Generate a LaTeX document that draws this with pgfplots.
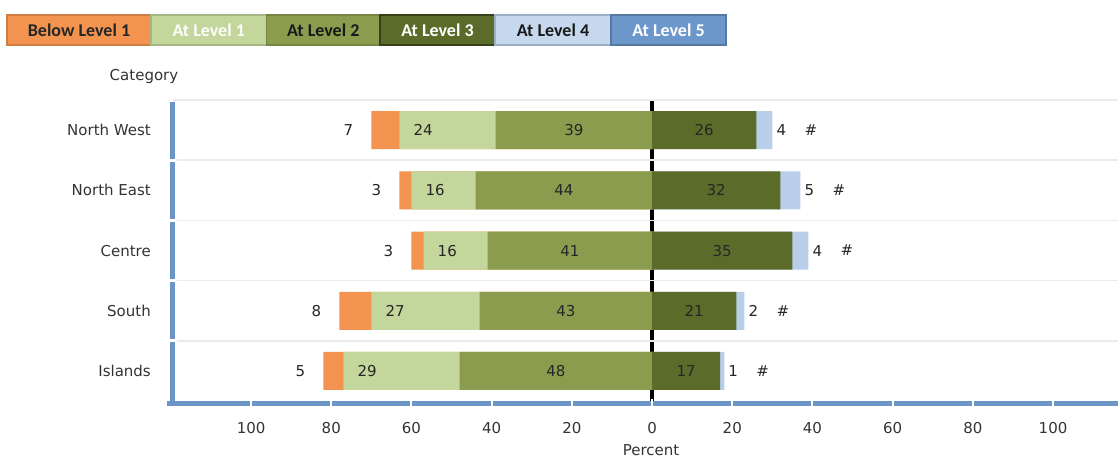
\documentclass[border=0pt]{standalone}
\usepackage{fontspec}
\setmainfont{DejaVu Sans}
\newfontfamily\legfont{Carlito}
\usepackage{pgfplots}
\usepackage{pgfplotstable}
\pgfplotsset{compat=1.18}

\definecolor{cB1}{HTML}{F2944F}
\definecolor{cL1}{HTML}{C3D69B}
\definecolor{cL2}{HTML}{8C9C4F}
\definecolor{cL3}{HTML}{5B6C2A}
\definecolor{cL4}{HTML}{B8CEE9}
\definecolor{cL5}{HTML}{6C97CB}
\definecolor{axblue}{HTML}{6B95C6}
\definecolor{txt}{HTML}{333333}

% rows top to bottom: North West, North East, Centre, South, Islands
\pgfplotstableread{
y B1 L1 L2 L3 L4 L5
0 7 24 39 26 4 0
1 3 16 44 32 5 0
2 3 16 41 35 4 0
3 8 27 43 21 2 0
4 5 29 48 17 1 0
}\data

\newcommand\fs{\fontsize{15}{18}\selectfont}

\pgfplotsset{
  seg/.style={xbar, bar width=38pt, bar shift=0pt, draw=none, fill=#1},
  % invisible bar whose end carries the value label
  lbl/.style={xbar, bar width=38pt, bar shift=0pt, draw=none, fill=none,
    nodes near coords, point meta=explicit symbolic,
    nodes near coords style={font=\fs, text=black!85, inner sep=0pt, #1}},
}

\begin{document}
\begin{tikzpicture}
\useasboundingbox (0,0) rectangle (1118pt,459pt);

% legend buttons
\newcommand\legbox[6]{%
  \path[fill=#3, draw=#5, line width=1.2pt] (#1pt,414pt) rectangle (#2pt,444pt);
  \node[text=#4, font=\legfont\bfseries\fontsize{18}{20}\selectfont] at ({(#1+#2)/2*1pt},429pt) {#6};}
\legbox{7}{151}{cB1}{black!85}{cB1!85!black}{Below Level 1}
\legbox{151}{266.5}{cL1}{white!95!cL1}{cL1!85!black}{At Level 1}
\legbox{266.5}{380}{cL2}{black!90}{cL2!85!black}{At Level 2}
\legbox{380}{495}{cL3}{white}{cL3!60!black}{At Level 3}
\legbox{495}{611}{cL4!80!white}{black!90}{cL4!85!black}{At Level 4}
\legbox{611}{726}{cL5}{white}{cL5!80!black}{At Level 5}

\node[font=\fs, text=txt] at (144pt,383pt) {Category};
\node[font=\fs, text=txt] at (651pt,9pt) {Percent};

\begin{axis}[
  at={(172.5pt,55.5pt)}, anchor=south west,
  scale only axis, width=945.5pt, height=303.5pt,
  xmin=-119.6, xmax=116.2,
  ymin=-0.5, ymax=4.54, y dir=reverse,
  clip=false,
  axis line style={draw=none},
  major tick length=0pt,
  xtick={-100,-80,...,100},
  xticklabels={100,80,60,40,20,0,20,40,60,80,100},
  ytick={0,...,4},
  yticklabels={North West,North East,Centre,South,Islands},
  xticklabel style={font=\fs, text=txt, anchor=north, inner sep=0pt, yshift=-19pt},
  yticklabel style={font=\fs, text=txt, anchor=east, inner sep=0pt, xshift=-21.5pt},
  extra y ticks={-0.5,0.5,1.5,2.5,3.5},
  extra y tick labels={},
  extra y tick style={grid=major, major grid style={black!8, line width=1.5pt}},
  extra x ticks={0},
  extra x tick labels={},
  extra x tick style={grid=major, major grid style={black, line width=3.5pt}},
  /pgf/number format/assume math mode=true,
]
% bars, drawn longest first so that each shorter segment lies on top
\addplot[seg=cB1] table[x expr={-(\thisrow{L2}+\thisrow{L1}+\thisrow{B1})}, y=y] {\data};
\addplot[seg=cL1] table[x expr={-(\thisrow{L2}+\thisrow{L1})}, y=y] {\data};
\addplot[seg=cL2] table[x expr={-\thisrow{L2}}, y=y] {\data};
\addplot[seg=cL4] table[x expr={\thisrow{L3}+\thisrow{L4}}, y=y] {\data};
\addplot[seg=cL3] table[x expr={\thisrow{L3}}, y=y] {\data};

% value labels
\addplot[lbl={anchor=east, xshift=-18pt}] table[x expr={-(\thisrow{L2}+\thisrow{L1}+\thisrow{B1})}, y=y, meta=B1] {\data};
\addplot[lbl={anchor=west, xshift=14pt}] table[x expr={-(\thisrow{L2}+\thisrow{L1})}, y=y, meta=L1] {\data};
\addplot[lbl={anchor=center}] table[x expr={-\thisrow{L2}/2}, y=y, meta=L2] {\data};
\addplot[lbl={anchor=center}] table[x expr={\thisrow{L3}/2}, y=y, meta=L3] {\data};
\addplot[lbl={anchor=west, xshift=4pt}] table[x expr={\thisrow{L3}+\thisrow{L4}}, y=y, meta=L4] {\data};
\addplot[lbl={anchor=west, xshift=32pt}, nodes near coords={\#}] table[x expr={\thisrow{L3}+\thisrow{L4}+\thisrow{L5}}, y=y, meta=L5] {\data};

% segmented blue axis lines
\draw[axblue, line width=5pt] (axis cs:-120.9,4.54) -- (axis cs:116.2,4.54);
\draw[axblue, line width=5pt] (axis cs:-119.6,-0.47) -- (axis cs:-119.6,4.54);
\pgfplotsinvokeforeach{-100,-80,...,100}{
  \draw[white, line width=2pt] (axis cs:#1,4.47) -- (axis cs:#1,4.62);
}
\pgfplotsinvokeforeach{0.5,1.5,2.5,3.5}{
  \draw[white, line width=3pt] (axis cs:-120.6,#1) -- (axis cs:-118.6,#1);
}
\end{axis}
\end{tikzpicture}
\end{document}
